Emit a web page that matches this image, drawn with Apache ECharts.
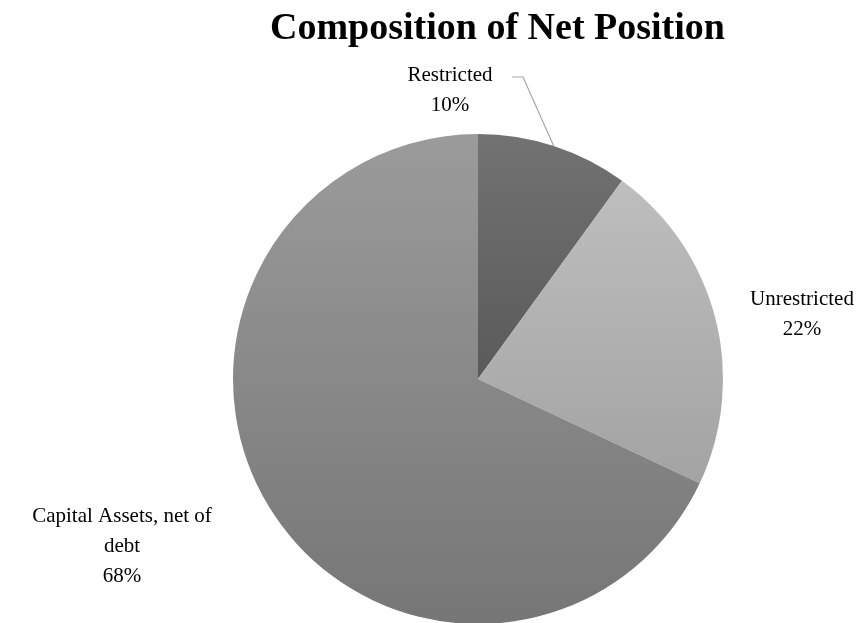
<!DOCTYPE html>
<html>
<head>
<meta charset="utf-8">
<script src="https://cdn.jsdelivr.net/npm/echarts@6/dist/echarts.min.js"></script>
<style>
  html, body { margin: 0; padding: 0; background: #fff; }
  #chart { width: 864px; height: 623px; }
</style>
</head>
<body>
<div id="chart"></div>
<script>
// data
const categories = ["Restricted", "Unrestricted", "Capital Assets, net of\ndebt"];
const values = [10, 22, 68];
// top / bottom gray of each slice
const topColors = ["#727272", "#bebebe", "#9b9b9b"];
const bottomColors = ["#5a5a5a", "#a3a3a3", "#767676"];

// where each label sits (centre of text block)
const labelPos = [
  { x: 450, y: 90 },
  { x: 802, y: 314 },
  { x: 122, y: 546 }
];

const chart = echarts.init(document.getElementById("chart"));
const serif = '"Liberation Serif", "DejaVu Serif", serif';

const option = {
  animation: false,
  title: {
    text: "Composition of Net Position",
    left: 265,
    top: 5,
    textStyle: { fontFamily: serif, fontSize: 38, fontWeight: "bold", color: "#000" }
  },
  series: [
    {
      type: "pie",
      center: [478, 379],
      radius: 245,
      startAngle: 90,
      clockwise: true,
      label: {
        show: true,
        formatter: "{b}\n{d}%",
        fontFamily: serif,
        fontSize: 21,
        lineHeight: 30,
        color: "#000",
        align: "center",
        overflow: "none",
        edgeDistance: 0
      },
      labelLine: {
        show: true,
        lineStyle: { color: "#a6a6a6", width: 1.2 }
      },
      labelLayout: function (params) {
        const i = params.dataIndex;
        const p = labelPos[i];
        const out = { x: p.x, y: p.y, align: "center", verticalAlign: "middle" };
        if (i === 0 && params.labelLinePoints) {
          const s = params.labelLinePoints[0];
          out.labelLinePoints = [s, [523, 77], [512, 77]];
        }
        return out;
      },
      data: categories.map(function (name, i) {
        return {
          name: name,
          value: values[i],
          labelLine: { show: i === 0 },
          itemStyle: {
            color: new echarts.graphic.LinearGradient(0, 0, 0, 1, [
              { offset: 0, color: topColors[i] },
              { offset: 1, color: bottomColors[i] }
            ])
          }
        };
      })
    }
  ]
};
chart.setOption(option);
</script>
</body>
</html>
